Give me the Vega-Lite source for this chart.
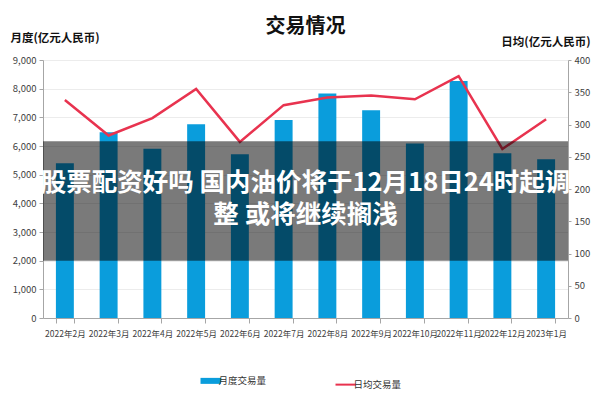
{
  "$schema": "https://vega.github.io/schema/vega-lite/v6.json",
  "width": 525,
  "height": 258,
  "autosize": {"type": "none"},
  "padding": {"left": 43, "top": 60, "right": 32, "bottom": 82},
  "background": "white",
  "config": {
    "font": "Noto Sans CJK SC",
    "view": {"stroke": null},
    "axis": {"labelFont": "Noto Sans CJK SC", "labelFontSize": 9.5, "labelColor": "#404040", "domainColor": "#a6a6a6", "tickColor": "#a6a6a6", "titleFont": "Noto Sans CJK SC", "titleFontSize": 11.5, "titleFontWeight": "bold", "titleColor": "#111111"}
  },
  "title": {"text": "交易情况", "fontSize": 20, "fontWeight": "bold", "color": "#111111", "font": "Noto Sans CJK SC", "offset": -5},
  "data": {"values": [
    {"month": "2022年2月", "monthly": 5400, "daily": 338},
    {"month": "2022年3月", "monthly": 6480, "daily": 283},
    {"month": "2022年4月", "monthly": 5900, "daily": 310},
    {"month": "2022年5月", "monthly": 6760, "daily": 355},
    {"month": "2022年6月", "monthly": 5710, "daily": 273},
    {"month": "2022年7月", "monthly": 6905, "daily": 330},
    {"month": "2022年8月", "monthly": 7830, "daily": 342},
    {"month": "2022年9月", "monthly": 7245, "daily": 345},
    {"month": "2022年10月", "monthly": 6090, "daily": 339},
    {"month": "2022年11月", "monthly": 8265, "daily": 375},
    {"month": "2022年12月", "monthly": 5745, "daily": 262},
    {"month": "2023年1月", "monthly": 5540, "daily": 308}
  ]},
  "encoding": {
    "x": {"field": "month", "type": "ordinal", "sort": null,
      "scale": {"paddingInner": 0.59, "paddingOuter": 0.295},
      "axis": {"title": null, "labelAngle": 0, "labelOverlap": false, "labelFontSize": 8.5, "tickBand": "extent", "labelPadding": 6, "tickSize": 5}}
  },
  "layer": [
    {
      "mark": {"type": "bar", "color": "#0a9ddc"},
      "encoding": {
        "y": {"field": "monthly", "type": "quantitative",
          "scale": {"domain": [0, 9000], "nice": false},
          "axis": {"orient": "left", "title": "月度(亿元人民币)", "titleAngle": 0, "titleAlign": "left", "titleBaseline": "middle", "titleX": -33, "titleY": -22, "format": ",.0f", "values": [0,1000,2000,3000,4000,5000,6000,7000,8000,9000], "labelOverlap": false, "gridColor": "#ececec", "grid": true, "tickSize": 4, "labelPadding": 3}},
        "color": {"datum": "月度交易量", "type": "nominal",
          "scale": {"domain": ["月度交易量", "日均交易量"], "range": ["#0a9ddc", "#e8334f"]},
          "legend": {"title": null, "orient": "none", "legendX": 163, "legendY": 316, "direction": "horizontal", "symbolType": "stroke", "symbolSize": 420, "columnPadding": 64, "labelFontSize": 9.5, "labelColor": "#333333", "labelFont": "Noto Sans CJK SC", "labelOffset": 3,
            "encode": {"symbols": {"update": {"strokeWidth": {"signal": "datum.value === '月度交易量' ? 6 : 2"}, "stroke": {"scale": "color", "field": "value"}}}}}}
      }
    },
    {
      "layer": [
        {
          "mark": {"type": "line", "color": "#e8334f", "strokeWidth": 2.5},
          "encoding": {
            "y": {"field": "daily", "type": "quantitative",
              "scale": {"domain": [0, 400], "nice": false},
              "axis": {"orient": "right", "title": "日均(亿元人民币)", "titleAngle": 0, "titleAlign": "right", "titleBaseline": "middle", "titleX": 22, "titleY": -18, "values": [0,50,100,150,200,250,300,350,400], "format": "d", "labelOverlap": false, "grid": false, "tickSize": 3, "labelPadding": 3}},
            "color": {"datum": "日均交易量", "type": "nominal"}
          }
        },
        {
          "data": {"values": [{"headline": "股票配资好吗 国内油价将于12月18日24时起调\n整 或将继续搁浅"}]},
          "mark": {"type": "rect", "color": "black", "opacity": 0.52},
          "encoding": {
            "x": null,
            "y": {"datum": 274.2, "type": "quantitative",
              "axis": {"orient": "right", "title": "日均(亿元人民币)", "titleAngle": 0, "titleAlign": "right", "titleBaseline": "middle", "titleX": 22, "titleY": -18, "values": [0,50,100,150,200,250,300,350,400], "format": "d", "labelOverlap": false, "grid": false, "tickSize": 3, "labelPadding": 3}},
            "y2": {"datum": 88.9}
          }
        },
        {
          "data": {"values": [{"headline": "股票配资好吗 国内油价将于12月18日24时起调\n整 或将继续搁浅"}]},
          "mark": {"type": "text", "color": "white", "fontSize": 25.5, "fontWeight": "bold", "font": "Noto Sans CJK SC", "lineBreak": "\n", "lineHeight": 32, "align": "center", "baseline": "middle"},
          "encoding": {
            "x": null,
            "y": {"datum": 209.3, "type": "quantitative",
              "axis": {"orient": "right", "title": "日均(亿元人民币)", "titleAngle": 0, "titleAlign": "right", "titleBaseline": "middle", "titleX": 22, "titleY": -18, "values": [0,50,100,150,200,250,300,350,400], "format": "d", "labelOverlap": false, "grid": false, "tickSize": 3, "labelPadding": 3}},
            "text": {"field": "headline"}
          }
        }
      ]
    }
  ],
  "resolve": {"scale": {"y": "independent"}}
}
